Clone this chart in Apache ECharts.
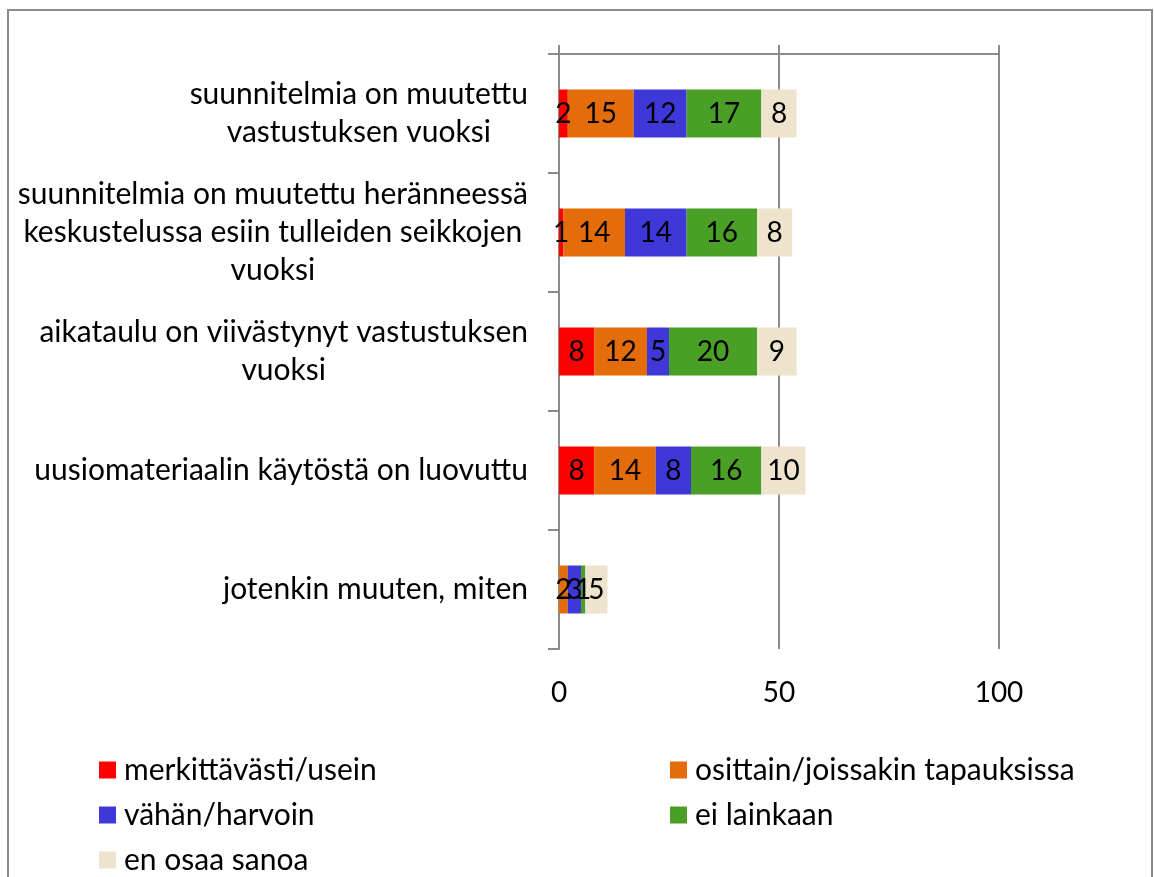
<!DOCTYPE html>
<html><head><meta charset="utf-8">
<script src="https://cdn.jsdelivr.net/npm/echarts@6/dist/echarts.min.js"></script>
<style>html,body{margin:0;padding:0;background:#fff}#c{width:1154px;height:877px}</style>
</head><body><div id="c"></div>
<script>
const categories = [
  "suunnitelmia on muutettu\nvastustuksen vuoksi",
  "suunnitelmia on muutettu heränneessä\nkeskustelussa esiin tulleiden seikkojen\nvuoksi",
  "aikataulu on viivästynyt vastustuksen\nvuoksi",
  "uusiomateriaalin käytöstä on luovuttu",
  "jotenkin muuten, miten"
];
const seriesNames = ["merkittävästi/usein", "osittain/joissakin tapauksissa", "vähän/harvoin", "ei lainkaan", "en osaa sanoa"];
const merkittavasti = [2, 1, 8, 8, 0];
const osittain = [15, 14, 12, 14, 2];
const vahan = [12, 14, 5, 8, 3];
const eiLainkaan = [17, 16, 20, 16, 1];
const enOsaa = [8, 8, 9, 10, 5];
const xTicks = [0, 50, 100];

const colors = ["#FF0000", "#E46C0A", "#3E38D8", "#4A9F26", "#EEE3CC"];
const FONT = 'Lato, "Open Sans", sans-serif';
const gray = "#8C8C8C";
const values = [merkittavasti, osittain, vahan, eiLainkaan, enOsaa];
const TXT = 30, NUM = 28;

const chart = echarts.init(document.getElementById('c'), null, {renderer: 'canvas'});
const legendBase = {orient: 'vertical', top: 755, padding: 0, itemWidth: 17, itemHeight: 17, itemGap: 15, icon: 'rect',
  textStyle: {fontSize: TXT, fontFamily: FONT, color: '#000', lineHeight: 30, padding: [0, 0, 0, 3]}};
chart.setOption({
  animation: false,
  textStyle: {fontFamily: FONT},
  graphic: [{type: 'rect', shape: {x: 8, y: 10, width: 1144, height: 900}, style: {fill: 'none', stroke: gray, lineWidth: 2}, silent: true}],
  grid: {left: 559, right: 155, top: 54, bottom: 228},
  xAxis: [
    {type: 'value', position: 'top', min: xTicks[0], max: xTicks[xTicks.length - 1], interval: 50,
     axisLine: {show: true, lineStyle: {color: gray, width: 2}},
     axisTick: {show: true, length: 9, lineStyle: {color: gray, width: 2}},
     axisLabel: {show: false},
     splitLine: {show: true, lineStyle: {color: gray, width: 2}}},
    {type: 'value', position: 'bottom', min: xTicks[0], max: xTicks[xTicks.length - 1], interval: 50,
     axisLine: {show: false}, axisTick: {show: false}, splitLine: {show: false},
     axisLabel: {show: true, margin: 30, color: '#000', fontSize: NUM, fontFamily: FONT}}
  ],
  yAxis: {type: 'category', inverse: true, data: categories,
    axisLine: {show: true, lineStyle: {color: gray, width: 2}},
    axisTick: {show: true, length: 11, lineStyle: {color: gray, width: 2}},
    axisLabel: {margin: 31, color: '#000', fontSize: TXT, fontFamily: FONT, lineHeight: 38, align: 'right',
      formatter: v => v.split('\n').map(l => '{c|' + l + '}').join('\n'),
      rich: {c: {align: 'center', fontSize: TXT, fontFamily: FONT, lineHeight: 38, color: '#000'}}}
  },
  legend: [
    Object.assign({left: 99, data: [seriesNames[0], seriesNames[2], seriesNames[4]]}, legendBase),
    Object.assign({left: 670, data: [seriesNames[1], seriesNames[3]]}, legendBase)
  ],
  series: seriesNames.map((name, i) => ({
    name, type: 'bar', stack: 'all', xAxisIndex: 0, barWidth: 48,
    data: values[i],
    itemStyle: {color: colors[i]},
    label: {show: true, position: 'inside', color: '#000', fontSize: NUM, fontFamily: FONT,
      formatter: p => p.value ? String(p.value) : ''}
  }))
});
</script></body></html>
